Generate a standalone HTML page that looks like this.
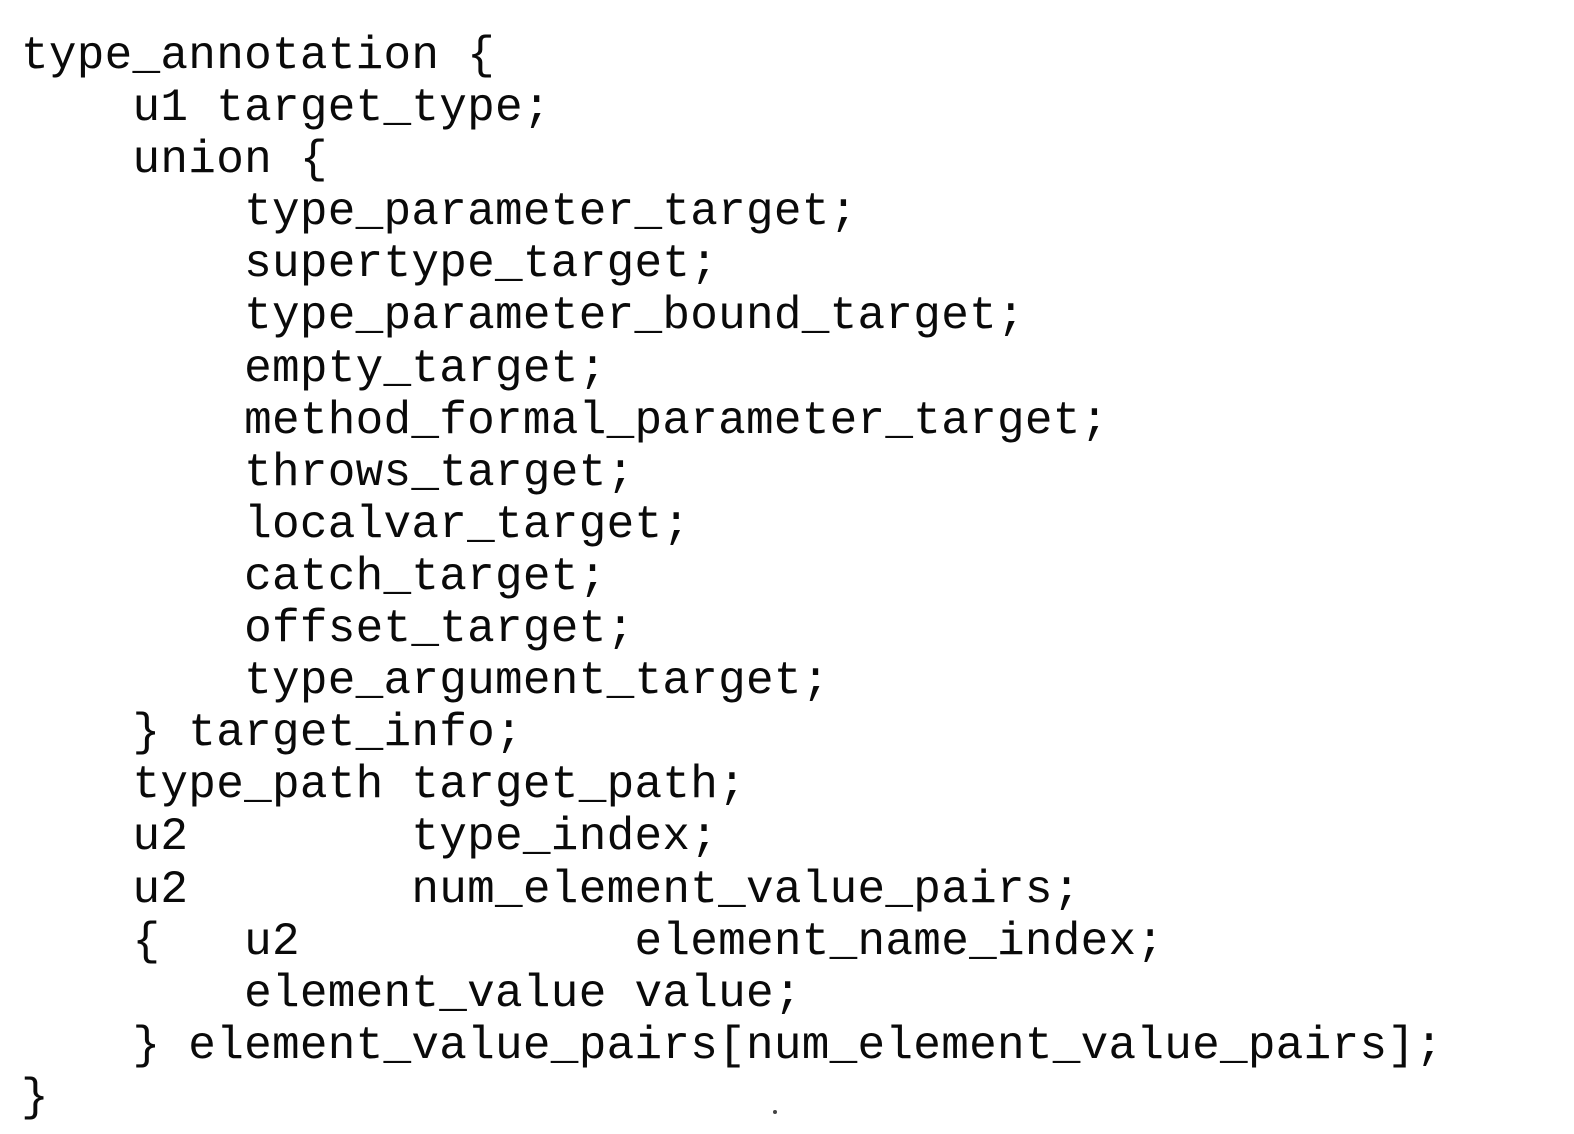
<!DOCTYPE html>
<html><head><meta charset="utf-8"><style>
html,body{margin:0;padding:0;background:#fff;width:1574px;height:1134px;overflow:hidden;}
pre{position:absolute;left:21px;top:30px;margin:0;font-family:"Liberation Mono","Courier New",monospace;font-size:46px;line-height:52.1px;color:#0a0a0a;letter-spacing:0.28px;}
.dot{position:absolute;left:773px;top:1110px;width:4px;height:4px;background:#444;border-radius:2px;}
</style></head><body>
<pre>type_annotation {
    u1 target_type;
    union {
        type_parameter_target;
        supertype_target;
        type_parameter_bound_target;
        empty_target;
        method_formal_parameter_target;
        throws_target;
        localvar_target;
        catch_target;
        offset_target;
        type_argument_target;
    } target_info;
    type_path target_path;
    u2        type_index;
    u2        num_element_value_pairs;
    {   u2            element_name_index;
        element_value value;
    } element_value_pairs[num_element_value_pairs];
}</pre>
<div class="dot"></div>
</body></html>
